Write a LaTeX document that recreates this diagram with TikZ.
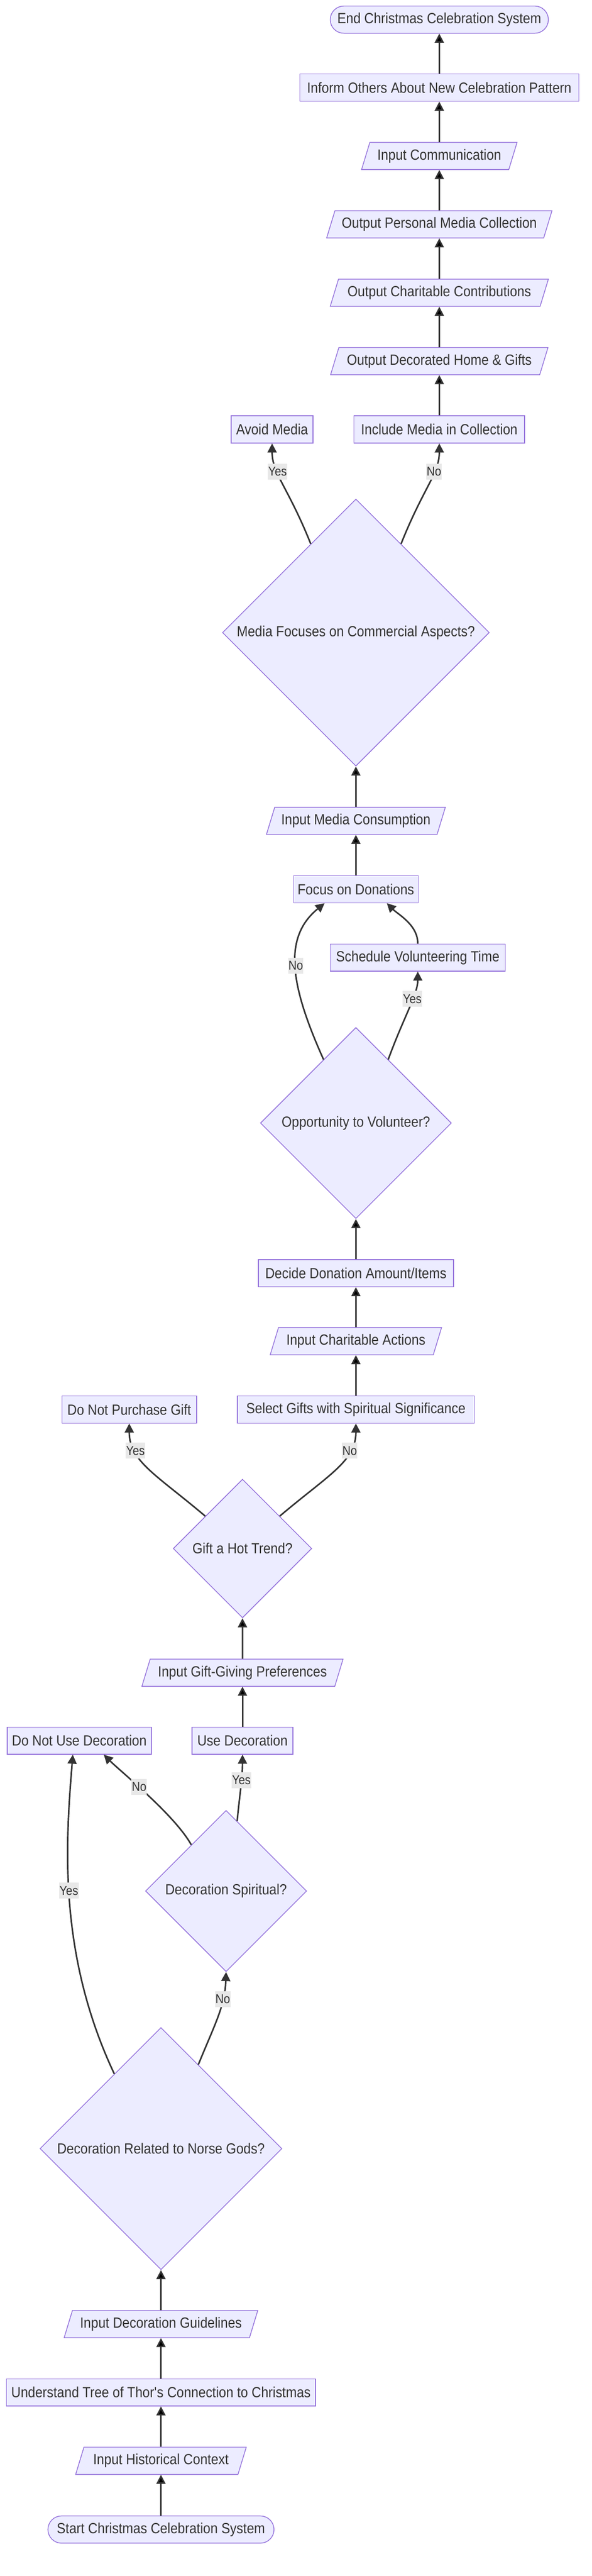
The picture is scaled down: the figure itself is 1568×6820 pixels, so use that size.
\documentclass[tikz,border=0pt]{standalone}
\usepackage{fontspec}
\setmainfont[FakeStretch=0.89]{Liberation Sans}
\usetikzlibrary{arrows.meta,positioning,shapes.geometric}

\definecolor{nodefill}{HTML}{ECECFF}
\definecolor{nodeline}{HTML}{9370DB}
\definecolor{edgeline}{HTML}{333333}
\definecolor{lblgray}{HTML}{E8E8E8}
\definecolor{txt}{HTML}{333333}
\newcommand\nodefont{\fontsize{39}{46}\selectfont}
\newcommand\lblfont{\fontsize{34}{40}\selectfont}

\begin{document}
\begin{tikzpicture}[>={Triangle[length=24pt,width=24pt]},x=1pt,y=1pt,
                    node distance=181pt,on grid,
    nodebase/.style={draw=nodeline,fill=nodefill,line width=2pt,text=txt,
                     font=\nodefont,minimum height=72pt},
    box/.style={nodebase,rectangle,inner xsep=10pt},
    term/.style={box,rounded corners=36pt},
    io/.style={nodebase,trapezium,trapezium left angle=63,trapezium right angle=117,
               trapezium stretches body,inner xsep=4pt},
    decision/.style={nodebase,diamond,aspect=1,inner sep=0pt},
    flow/.style={->,draw=edgeline,line width=4pt},
    lbl/.style={fill=lblgray,text=txt,font=\lblfont,inner xsep=1pt,inner ysep=0pt,
                minimum height=42pt}]
      \path[use as bounding box,fill=white] (0,0) rectangle (1568,6820);

      % decoration part
      \node[term,minimum width=599pt] (start) at (426.5,123) {Start Christmas Celebration System};
      \node[io,minimum width=452pt] (hist) [above=182pt of start] {Input Historical Context};
      \node[box,minimum width=819pt] (tree) [above=of hist] {Understand Tree of Thor\textquotesingle s Connection to Christmas};
      \node[io,minimum width=513pt] (guide) [above=of tree] {Input Decoration Guidelines};
      \node[decision,minimum size=641pt] (norse) [above=464.5pt of guide] {Decoration Related to Norse Gods?};
      \node[decision,minimum size=427pt] (spirit) [above right=682pt and 172.5pt of norse] {Decoration Spiritual?};
      \node[box,minimum width=382pt] (nouse) [above left=398pt and 389pt of spirit] {Do Not Use Decoration};
      \node[box,minimum width=267pt] (usedec) [above right=398pt and 43.5pt of spirit] {Use Decoration};

      % gifts and charity
      \node[io,minimum width=533pt] (gpref) [above=180pt of usedec] {Input Gift-Giving Preferences};
      \node[decision,minimum size=367pt] (gift) [above=328.7pt of gpref] {Gift a Hot Trend?};
      \node[box,minimum width=357pt] (nobuy) [above left=368pt and 300pt of gift] {Do Not Purchase Gift};
      \node[box,minimum width=628pt] (selgift) [above right=368pt and 300.5pt of gift] {Select Gifts with Spiritual Significance};
      \node[io,minimum width=454pt] (charin) [above=of selgift] {Input Charitable Actions};
      \node[box,minimum width=517pt] (decide) [above=180pt of charin] {Decide Donation Amount/Items};
      \node[decision,minimum size=506pt] (oppo) [above=397.5pt of decide] {Opportunity to Volunteer?};
      \node[box,minimum width=464pt] (sched) [above right=438pt and 164pt of oppo] {Schedule Volunteering Time};
      \node[box,minimum width=330pt] (focus) [above left=181pt and 164pt of sched] {Focus on Donations};

      % media and outputs
      \node[io,minimum width=474pt] (mediain) [above=of focus] {Input Media Consumption};
      \node[decision,minimum size=707pt] (mediaq) [above=498.5pt of mediain] {Media Focuses on Commercial Aspects?};
      \node[box,minimum width=217pt] (avoid) [above left=537.7pt and 222pt of mediaq] {Avoid Media};
      \node[box,minimum width=452pt] (incl) [above right=537.7pt and 221pt of mediaq] {Include Media in Collection};
      \node[io,minimum width=576pt] (outdec) [above=of incl] {Output Decorated Home \& Gifts};
      \node[io,minimum width=578pt] (outchar) [above=of outdec] {Output Charitable Contributions};
      \node[io,minimum width=597pt] (outpers) [above=of outchar] {Output Personal Media Collection};
      \node[io,minimum width=412pt] (comm) [above=of outpers] {Input Communication};
      \node[box,minimum width=739pt] (inform) [above=of comm] {Inform Others About New Celebration Pattern};
      \node[term,minimum width=578pt] (end) [above=180pt of inform] {End Christmas Celebration System};

      \path[flow] (start) edge (hist);
      \path[flow] (hist) edge (tree);
      \path[flow] (tree) edge (guide);
      \path[flow] (guide) edge (norse);
      \path[flow] (usedec) edge (gpref);
      \path[flow] (gpref) edge (gift);
      \path[flow] (selgift) edge (charin);
      \path[flow] (charin) edge (decide);
      \path[flow] (decide) edge (oppo);
      \path[flow] (focus) edge (mediain);
      \path[flow] (mediain) edge (mediaq);
      \path[flow] (incl) edge (outdec);
      \path[flow] (outdec) edge (outchar);
      \path[flow] (outchar) edge (outpers);
      \path[flow] (outpers) edge (comm);
      \path[flow] (comm) edge (inform);
      \path[flow] (inform) edge (end);

      \draw[flow] (norse.122) .. controls +(-152,322) and +(-18,-224) .. ([xshift=-17pt]nouse.south) node[lbl,pos=0.53] {Yes};
      \draw[flow] (norse.66) .. controls +(45,110) and +(-3,-90) .. (spirit.south) node[lbl,pos=0.7] {No};
      \draw[flow] (spirit.127) .. controls +(-45,80) and +(45,-45) .. ([xshift=65pt]nouse.south) node[lbl,pos=0.58] {No};
      \draw[flow] (spirit.81) .. controls +(8,80) and +(0,-60) .. (usedec.south) node[lbl,pos=0.58] {Yes};
      \draw[flow] (gift.139) .. controls +(-130,110) and +(0,-100) .. (nobuy.south) node[lbl,pos=0.72] {Yes};
      \draw[flow] (gift.41) .. controls +(130,110) and +(0,-100) .. (selgift.south) node[lbl,pos=0.72] {No};
      \draw[flow] (oppo.117) .. controls +(-90,200) and +(-110,-90) .. ([xshift=-83pt]focus.south) node[lbl,pos=0.5] {No};
      \draw[flow] (oppo.63) .. controls +(40,110) and +(0,-60) .. (sched.south) node[lbl,pos=0.62] {Yes};
      \draw[flow] (sched.north) .. controls +(0,50) and +(30,-30) .. ([xshift=82pt]focus.south);
      \draw[flow] (mediaq.117) .. controls +(-60,150) and +(0,-80) .. (avoid.south) node[lbl,pos=0.65] {Yes};
      \draw[flow] (mediaq.63) .. controls +(60,150) and +(0,-80) .. (incl.south) node[lbl,pos=0.65] {No};
    \end{tikzpicture}
\end{document}
